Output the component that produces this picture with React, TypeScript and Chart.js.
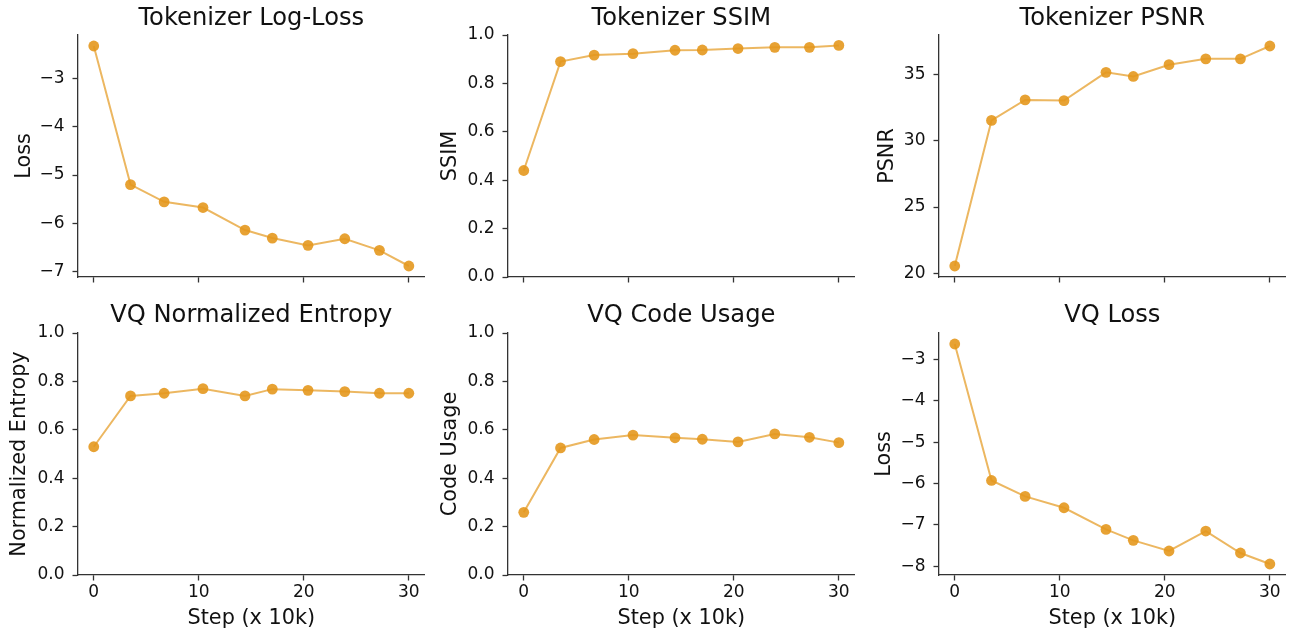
import React, { useEffect, useRef } from 'react';
import { Chart, registerables } from 'chart.js';

Chart.register(...registerables);

// ---------- data ----------
const steps = [0, 3.5, 6.7, 10.4, 14.4, 17.0, 20.4, 23.9, 27.2, 30.0];
const xTicks = [0, 10, 20, 30];

const tokLogLoss = [-2.316, -5.198, -5.557, -5.675, -6.144, -6.31, -6.462, -6.324, -6.566, -6.891];
const tokSSIM = [0.44, 0.89, 0.917, 0.923, 0.937, 0.938, 0.944, 0.949, 0.949, 0.957];
const tokPSNR = [20.55, 31.54, 33.09, 33.04, 35.17, 34.86, 35.75, 36.19, 36.19, 37.16];
const vqEntropy = [0.53, 0.74, 0.751, 0.77, 0.74, 0.768, 0.763, 0.758, 0.751, 0.751];
const vqCodeUsage = [0.259, 0.525, 0.56, 0.578, 0.567, 0.561, 0.55, 0.583, 0.569, 0.547];
const vqLoss = [-2.63, -5.926, -6.312, -6.585, -7.108, -7.373, -7.63, -7.148, -7.678, -7.944];

const lossTicks = [-7, -6, -5, -4, -3];
const unitTicks = [0, 0.2, 0.4, 0.6, 0.8, 1.0];
const psnrTicks = [20, 25, 30, 35];
const vqLossTicks = [-8, -7, -6, -5, -4, -3];

const titles = [
  'Tokenizer Log-Loss',
  'Tokenizer SSIM',
  'Tokenizer PSNR',
  'VQ Normalized Entropy',
  'VQ Code Usage',
  'VQ Loss',
];
const yLabels = ['Loss', 'SSIM', 'PSNR', 'Normalized Entropy', 'Code Usage', 'Loss'];
const xLabel = 'Step (x 10k)';

// ---------- style ----------
const FONT = "'DejaVu Sans', 'Liberation Sans', sans-serif";
const PT_COLOR = 'rgba(228,152,30,0.9)';
const LN_COLOR = 'rgba(228,152,30,0.7)';
const AXIS = '#333333';
const TEXT = '#111111';
const TICK_SIZE = 17;
const LABEL_SIZE = 20.8;
const TITLE_SIZE = 24.2;

type PanelDef = {
  title: string;
  yLabel: string;
  values: number[];
  yTicks: number[];
  fixed?: [number, number];
  decimals: number;
  left: number;
  top: number;
  height: number;
  bottomRow: boolean;
  yTitlePad: number;
};

const CANVAS_W = 430;
const Y_AXIS_W = 78;

function autoRange(v: number[]): [number, number] {
  const lo = Math.min(...v);
  const hi = Math.max(...v);
  const m = (hi - lo) * 0.05;
  return [lo - m, hi + m];
}

function fmt(v: number, d: number): string {
  const s = Math.abs(v).toFixed(d);
  return v < 0 ? '\u2212' + s : s;
}

const panels: PanelDef[] = [
  { title: titles[0], yLabel: yLabels[0], values: tokLogLoss, yTicks: lossTicks, decimals: 0, left: 0, top: 0, height: 300, bottomRow: false, yTitlePad: 12 },
  { title: titles[1], yLabel: yLabels[1], values: tokSSIM, yTicks: unitTicks, fixed: [0, 1], decimals: 1, left: 430, top: 0, height: 300, bottomRow: false, yTitlePad: 8 },
  { title: titles[2], yLabel: yLabels[2], values: tokPSNR, yTicks: psnrTicks, decimals: 0, left: 861, top: 0, height: 300, bottomRow: false, yTitlePad: 14.3 },
  { title: titles[3], yLabel: yLabels[3], values: vqEntropy, yTicks: unitTicks, fixed: [0, 1], decimals: 1, left: 0, top: 300, height: 335, bottomRow: true, yTitlePad: 7 },
  { title: titles[4], yLabel: yLabels[4], values: vqCodeUsage, yTicks: unitTicks, fixed: [0, 1], decimals: 1, left: 430, top: 300, height: 335, bottomRow: true, yTitlePad: 8 },
  { title: titles[5], yLabel: yLabels[5], values: vqLoss, yTicks: vqLossTicks, decimals: 0, left: 861, top: 300, height: 335, bottomRow: true, yTitlePad: 11.5 },
];

function Panel({ p }: { p: PanelDef }) {
  const ref = useRef<HTMLCanvasElement>(null);
  useEffect(() => {
    const canvas = ref.current;
    if (!canvas) return;
    const [yMin, yMax] = p.fixed ?? autoRange(p.values);
    const xAxisH = p.bottomRow ? 60 : 23;
    const lh = TITLE_SIZE * 1.2;
    const titlePad = p.bottomRow
      ? { top: 15.4 - lh / 2, bottom: 33 - (15.4 - lh / 2) - lh }
      : { top: 18.7 - lh / 2, bottom: 35 - (18.7 - lh / 2) - lh };
    const chart = new Chart(canvas, {
      type: 'line',
      data: {
        datasets: [
          {
            data: steps.map((x, i) => ({ x, y: p.values[i] })),
            borderColor: LN_COLOR,
            backgroundColor: PT_COLOR,
            pointBackgroundColor: PT_COLOR,
            pointBorderWidth: 0,
            pointRadius: 5.4,
            borderWidth: 2,
            tension: 0,
            fill: false,
          },
        ],
      },
      options: {
        animation: false,
        responsive: false,
        devicePixelRatio: 1,
        layout: { padding: 0 },
        plugins: {
          legend: { display: false },
          tooltip: { enabled: false },
          title: {
            display: true,
            fullSize: false,
            text: p.title,
            color: TEXT,
            font: { family: FONT, size: TITLE_SIZE, weight: 'normal' },
            padding: titlePad,
          },
        },
        scales: {
          x: {
            type: 'linear',
            min: -1.5,
            max: 31.5,
            afterBuildTicks: (s: any) => {
              s.ticks = xTicks.map((v) => ({ value: v }));
            },
            afterFit: (s: any) => {
              s.height = xAxisH;
            },
            grid: { drawOnChartArea: false, drawTicks: true, tickLength: 5.5, tickColor: AXIS, tickWidth: 1.3 },
            border: { display: true, color: AXIS, width: 1.3 },
            ticks: {
              display: p.bottomRow,
              color: TEXT,
              font: { family: FONT, size: TICK_SIZE },
              padding: 2.3,
              maxRotation: 0,
              autoSkip: false,
              callback: (v: any) => fmt(Number(v), 0),
            },
            title: {
              display: p.bottomRow,
              text: xLabel,
              color: TEXT,
              font: { family: FONT, size: LABEL_SIZE },
              padding: { top: 0, bottom: 3.8 },
            },
          },
          y: {
            type: 'linear',
            min: yMin,
            max: yMax,
            afterBuildTicks: (s: any) => {
              s.ticks = p.yTicks.map((v) => ({ value: v }));
            },
            afterFit: (s: any) => {
              s.width = Y_AXIS_W;
            },
            grid: { drawOnChartArea: false, drawTicks: true, tickLength: 5.5, tickColor: AXIS, tickWidth: 1.3 },
            border: { display: true, color: AXIS, width: 1.3 },
            ticks: {
              color: TEXT,
              font: { family: FONT, size: TICK_SIZE },
              padding: 8,
              autoSkip: false,
              callback: (v: any) => fmt(Number(v), p.decimals),
            },
            title: {
              display: true,
              text: p.yLabel,
              color: TEXT,
              font: { family: FONT, size: LABEL_SIZE },
              padding: { top: p.yTitlePad, bottom: 0 },
            },
          },
        },
      },
    } as any);
    return () => chart.destroy();
  }, [p]);
  return (
    <canvas
      ref={ref}
      width={CANVAS_W}
      height={p.height}
      style={{ position: 'absolute', left: p.left, top: p.top, width: CANVAS_W, height: p.height }}
    />
  );
}

export default function App() {
  return (
    <div style={{ position: 'absolute', left: 0, top: 0, width: 1291, height: 635, background: '#fff', overflow: 'hidden' }}>
      {panels.map((p, i) => (
        <Panel key={i} p={p} />
      ))}
    </div>
  );
}
